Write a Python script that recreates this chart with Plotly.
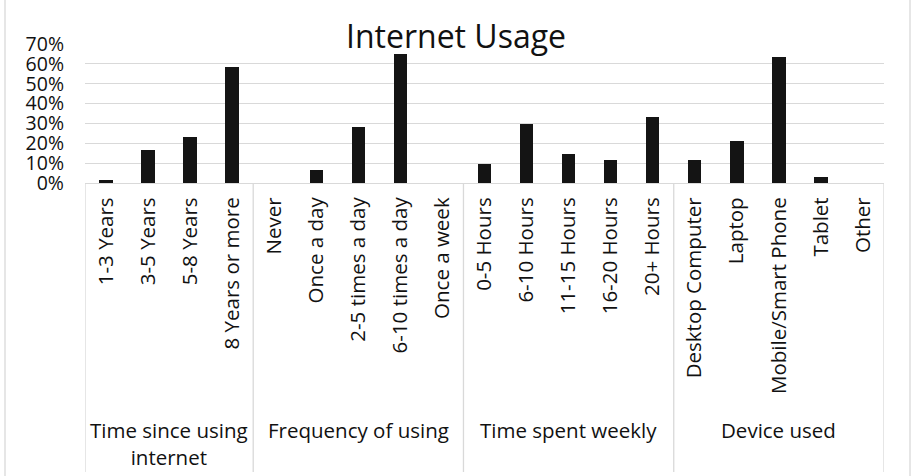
import plotly.graph_objects as go

# Survey answers, grouped by question
groups = ["Time since using<br>internet", "Frequency of using", "Time spent weekly", "Device used"]
categories_time_since = ["1-3 Years", "3-5 Years", "5-8 Years", "8 Years or more"]
categories_frequency = ["Never", "Once a day", "2-5 times a day", "6-10 times a day", "Once a week"]
categories_weekly = ["0-5 Hours", "6-10 Hours", "11-15 Hours", "16-20 Hours", "20+ Hours"]
categories_device = ["Desktop Computer", "Laptop", "Mobile/Smart Phone", "Tablet", "Other"]

values_time_since = [0.013, 0.164, 0.231, 0.583]
values_frequency = [0.0, 0.063, 0.281, 0.650, 0.0]
values_weekly = [0.097, 0.298, 0.147, 0.114, 0.332]
values_device = [0.114, 0.214, 0.633, 0.030, 0.0]

category_sets = [categories_time_since, categories_frequency, categories_weekly, categories_device]
value_sets = [values_time_since, values_frequency, values_weekly, values_device]

categories = [c for s in category_sets for c in s]
values = [v for s in value_sets for v in s]

FONT = "Open Sans"
GRID = "#d9d9d9"
INK = "#111111"

fig = go.Figure(
    go.Bar(
        x=categories,
        y=values,
        marker=dict(color="#141414", line=dict(width=0)),
        width=0.32,
        showlegend=False,
    )
)

# Group separators and group labels below the category labels
sep_bottom = -2.08
start = 0
bounds = [-0.5]
for s in category_sets:
    bounds.append(start + len(s) - 0.5)
    start += len(s)

shapes = []
for b in bounds:
    shapes.append(dict(type="line", xref="x", yref="paper", x0=b, x1=b,
                       y0=0, y1=sep_bottom, line=dict(color=GRID, width=1.3)))

# outer chart border
for px in (5, 910):
    xp = (px - 85) / 799
    shapes.append(dict(type="line", xref="paper", yref="paper", x0=xp, x1=xp,
                       y0=1.4, y1=-2.2, line=dict(color=GRID, width=1.3)))

annotations = []
start = 0
for g, s in zip(groups, category_sets):
    centre = start + (len(s) - 1) / 2
    annotations.append(dict(text=g, x=centre, xref="x", y=-1.66, yref="paper",
                            xanchor="center", yanchor="top", showarrow=False,
                            font=dict(family=FONT, size=20.5, color=INK)))
    start += len(s)

fig.update_layout(
    width=912,
    height=476,
    margin=dict(l=85, r=28, t=44, b=292.7),
    paper_bgcolor="white",
    plot_bgcolor="white",
    title=dict(text="Internet Usage", x=0.5, xref="container", y=1 - 37 / 476,
               yanchor="middle", xanchor="center",
               font=dict(family=FONT, size=32, color=INK)),
    xaxis=dict(type="category", tickangle=-90,
               tickfont=dict(family=FONT, size=20.5, color=INK),
               showline=True, linecolor=GRID, linewidth=1.3,
               showgrid=False, ticks="", ticklabelstandoff=5,
               range=[-0.5, len(categories) - 0.5]),
    yaxis=dict(range=[0, 0.7], dtick=0.1, tickformat=".0%",
               tickfont=dict(family=FONT, size=19.5, color=INK),
               gridcolor=GRID, gridwidth=1.3, zeroline=False, showline=False,
               ticks="", ticklabelstandoff=20),
    shapes=shapes,
    annotations=annotations,
    bargap=0,
)

fig.write_html("out.html")
